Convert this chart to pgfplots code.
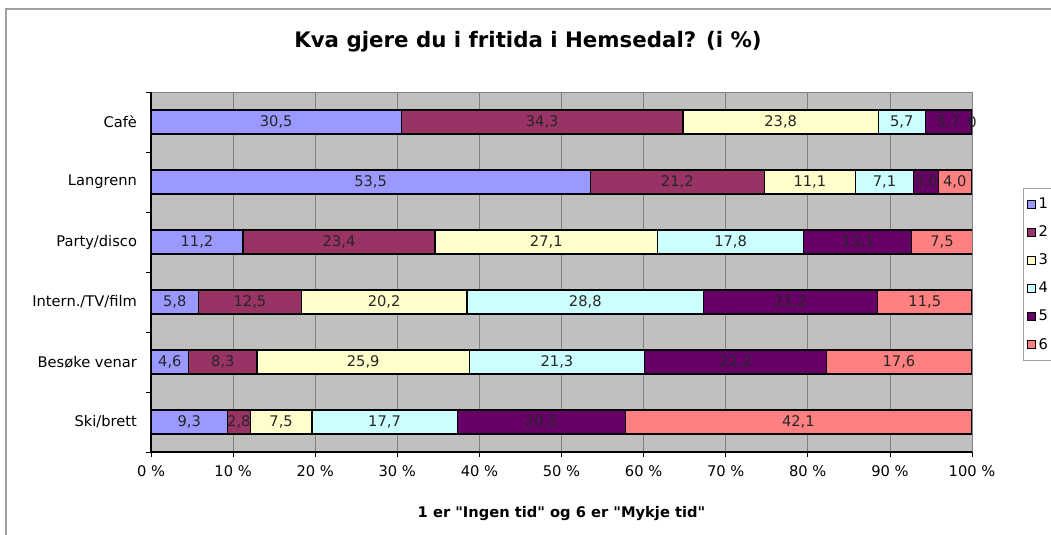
\documentclass[border=0pt]{standalone}
\usepackage{pgfplots}
\pgfplotsset{compat=1.18}
\usepackage{pgfplotstable}
\usepackage{fontspec}
\setmainfont{DejaVu Sans}[Ligatures=TeXOff]
\definecolor{c1}{HTML}{9999FF}
\definecolor{c2}{HTML}{993366}
\definecolor{c3}{HTML}{FFFFCC}
\definecolor{c4}{HTML}{CCFFFF}
\definecolor{c5}{HTML}{660066}
\definecolor{c6}{HTML}{FF8080}
\definecolor{bggray}{HTML}{C0C0C0}
\definecolor{gridgray}{HTML}{808080}
\definecolor{framegray}{HTML}{A0A0A0}
\pgfplotsset{sqleg/.style={legend image code/.code={\draw[##1,draw=black,line width=0.6pt] (0pt,-3pt) rectangle (6pt,3pt);}}}

% values per category (y: 0 = Cafe ... 5 = Ski/brett)
\pgfplotstableread{
y  s1   s2   s3   s4   s5   s6
0  30.5 34.3 23.8 5.7  5.7  0.0
1  53.5 21.2 11.1 7.1  3.0  4.0
2  11.2 23.4 27.1 17.8 13.1 7.5
3  5.8  12.5 20.2 28.8 21.2 11.5
4  4.6  8.3  25.9 21.3 22.2 17.6
5  9.3  2.8  7.5  17.7 20.5 42.1
}\datatable

% label positions (middle of each segment) and label texts
\pgfplotstableread{
y  m      l
0  15.25  30,5
0  47.65  34,3
0  76.70  23,8
0  91.45  5,7
0  97.15  5,7
0  100.0  0
1  26.75  53,5
1  64.10  21,2
1  80.25  11,1
1  89.35  7,1
1  94.40  3,0
1  97.90  4,0
2  5.60   11,2
2  22.90  23,4
2  48.15  27,1
2  70.60  17,8
2  86.15  13,1
2  96.35  7,5
3  2.90   5,8
3  12.05  12,5
3  28.40  20,2
3  52.90  28,8
3  77.90  21,2
3  94.25  11,5
4  2.30   4,6
4  8.75   8,3
4  25.85  25,9
4  49.45  21,3
4  71.20  22,2
4  91.10  17,6
5  4.65   9,3
5  10.70  2,8
5  15.85  7,5
5  28.45  17,7
5  47.55  20,5
5  78.85  42,1
}\labtable

\begin{document}
\begin{tikzpicture}
\useasboundingbox (0,0) rectangle (788.25pt,401.25pt);
\draw[framegray, line width=0.8pt] (4.5pt,0pt) -- (4.5pt,394.5pt) -- (790pt,394.5pt);
\node[font=\bfseries\fontsize{16}{19}\selectfont] at (396pt,370pt) {Kva gjere du i fritida i Hemsedal? (i \%)};
\begin{axis}[
  at={(113.25pt,62.25pt)}, anchor=south west,
  scale only axis, width=615.75pt, height=270pt,
  xbar stacked, bar width=0.4,
  xmin=0, xmax=100, ymin=-0.5, ymax=5.5, y dir=reverse,
  enlargelimits=false,
  axis background/.style={fill=bggray, draw=gridgray},
  axis x line*=bottom, axis y line*=left,
  axis line style={-, black, line width=0.9pt},
  tick align=outside, major tick length=3.75pt,
  tick style={black, line width=0.6pt},
  xtick={0,10,...,100},
  xticklabels={0 \%,10 \%,20 \%,30 \%,40 \%,50 \%,60 \%,70 \%,80 \%,90 \%,100 \%},
  xmajorgrids, grid style={gridgray, line width=0.6pt},
  ytick={-0.5,0.5,...,5.5}, yticklabels={},
  extra y ticks={0,1,2,3,4,5},
  extra y tick labels={Cafè,Langrenn,Party/disco,Intern./TV/film,Besøke venar,Ski/brett},
  extra y tick style={major tick length=0pt, tick style={draw=none}},
  yticklabel style={font=\fontsize{11}{13}\selectfont, xshift=-7pt},
  xticklabel style={font=\fontsize{11}{13}\selectfont, yshift=-3pt},
  xlabel={1 er "Ingen tid" og 6 er "Mykje tid"},
  xlabel style={font=\bfseries\fontsize{11}{13}\selectfont, yshift=-15pt},
  legend style={at={(1.062,0.733)}, anchor=north west, draw=framegray,
    font=\fontsize{11}{13}\selectfont, row sep=7.5pt, inner xsep=3pt, inner ysep=5pt,
    legend cell align=left},
]
\addplot[fill=c1, draw=black, line width=0.9pt, sqleg] table[x=s1,y=y] {\datatable};
\addplot[fill=c2, draw=black, line width=0.9pt, sqleg] table[x=s2,y=y] {\datatable};
\addplot[fill=c3, draw=black, line width=0.9pt, sqleg] table[x=s3,y=y] {\datatable};
\addplot[fill=c4, draw=black, line width=0.9pt, sqleg] table[x=s4,y=y] {\datatable};
\addplot[fill=c5, draw=black, line width=0.9pt, sqleg] table[x=s5,y=y] {\datatable};
\addplot[fill=c6, draw=black, line width=0.9pt, sqleg] table[x=s6,y=y] {\datatable};
\legend{1,2,3,4,5,6}
\end{axis}
\begin{axis}[
  at={(113.25pt,62.25pt)}, anchor=south west,
  scale only axis, width=615.75pt, height=270pt,
  xmin=0, xmax=100, ymin=-0.5, ymax=5.5, y dir=reverse,
  hide axis, clip=false,
]
\addplot[draw=none, mark=none, point meta=explicit symbolic,
  nodes near coords,
  every node near coord/.style={anchor=center, inner sep=0pt, text=black!85, font=\fontsize{11}{13}\selectfont}]
  table[x=m, y=y, meta=l] {\labtable};
\end{axis}
\end{tikzpicture}
\end{document}
